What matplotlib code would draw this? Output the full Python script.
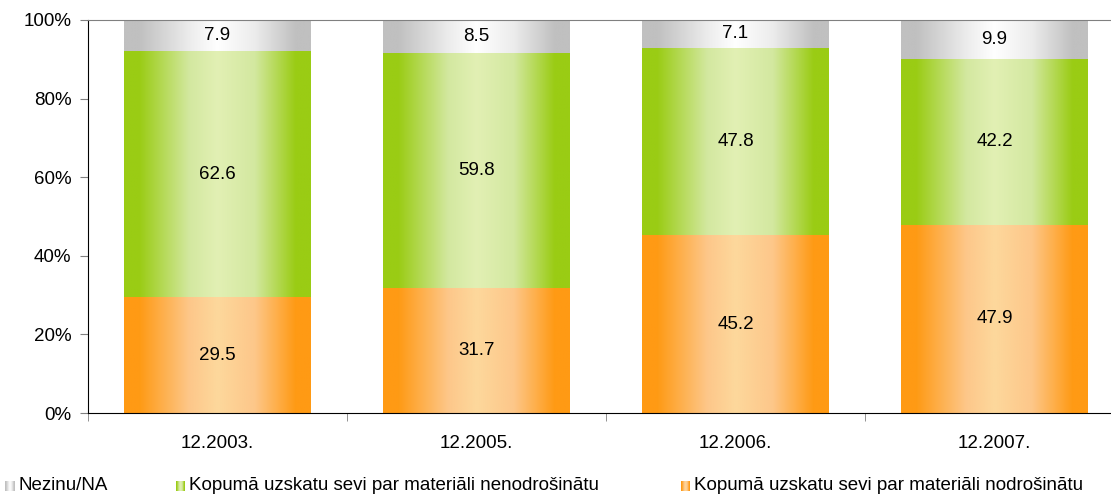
import numpy as np
import matplotlib
matplotlib.use("Agg")
import matplotlib.pyplot as plt
from matplotlib.colors import LinearSegmentedColormap

plt.rcParams['font.family'] = ['Liberation Sans', 'DejaVu Sans']

categories = ["12.2003.", "12.2005.", "12.2006.", "12.2007."]
secure = [29.5, 31.7, 45.2, 47.9]
insecure = [62.6, 59.8, 47.8, 42.2]
unknown = [7.9, 8.5, 7.1, 9.9]
series_names = ["Nezinu/NA",
                "Kopumā uzskatu sevi par materiāli nenodrošinātu",
                "Kopumā uzskatu sevi par materiāli nodrošinātu"]
yticks = [0, 20, 40, 60, 80, 100]
ytick_labels = ["0%", "20%", "40%", "60%", "80%", "100%"]

def grad_cmap(edge, mid, center):
    return LinearSegmentedColormap.from_list(
        "g", [(0.0, edge), (0.08, edge), (0.35, mid), (0.5, center),
              (0.7, mid), (0.92, edge), (1.0, edge)])

orange_cm = grad_cmap("#ff9a14", "#fdc78a", "#fdd89c")
green_cm = grad_cmap("#9acc14", "#d3e8a0", "#e2f0b4")
gray_cm = grad_cmap("#c0c0c0", "#ececec", "#ffffff")

fig = plt.figure(figsize=(11.11, 4.95), dpi=100)
ax = fig.add_axes([88/1111, 82/495, 1036/1111, 393/495])

x = np.arange(len(categories))
w = 0.72
b1 = ax.bar(x, secure, w, color="none")
b2 = ax.bar(x, insecure, w, bottom=secure, color="none")
bottom3 = [a + b for a, b in zip(secure, insecure)]
b3 = ax.bar(x, unknown, w, bottom=bottom3, color="none")

grad = np.linspace(0, 1, 256).reshape(1, -1)
for bars, cm, vals in [(b1, orange_cm, secure), (b2, green_cm, insecure), (b3, gray_cm, unknown)]:
    for p, v in zip(bars, vals):
        x0, y0 = p.get_x(), p.get_y()
        ww, hh = p.get_width(), p.get_height()
        ax.imshow(grad, cmap=cm, extent=[x0, x0 + ww, y0, y0 + hh],
                  aspect="auto", interpolation="bilinear", zorder=2)
        ax.text(x0 + ww / 2, y0 + hh / 2, f"{v:.1f}", ha="center", va="center",
                fontsize=13.5, color="black", zorder=3)

ax.set_xlim(-0.5, len(categories) - 0.5)
ax.set_ylim(0, 100)
ax.set_yticks(yticks)
ax.set_yticklabels(ytick_labels, fontsize=13.5)
ax.set_xticks(x)
ax.set_xticklabels(categories, fontsize=13.5)
ax.tick_params(axis="x", length=0, pad=16)
ax.set_xticks(np.arange(len(categories) + 1) - 0.5, minor=True)
ax.tick_params(axis="x", which="minor", length=6, color="#808080", direction="out")
ax.tick_params(axis="y", length=6, color="#808080", direction="out", pad=6)

ax.spines["right"].set_visible(False)
ax.spines["top"].set_color("#808080")
ax.spines["left"].set_color("black")
ax.spines["bottom"].set_color("black")

# legend
legend_items = [(5, gray_cm, series_names[0]), (176, green_cm, series_names[1]),
                (681, orange_cm, series_names[2])]
for px, cm, label in legend_items:
    lax = fig.add_axes([px/1111, (495-491)/495, 9/1111, 10/495])
    lax.imshow(grad, cmap=cm, aspect="auto", interpolation="bilinear")
    lax.axis("off")
    fig.text((px + 13)/1111, (495-486)/495, label, ha="left", va="center", fontsize=13.5)

fig.savefig("out.png", dpi=100)
